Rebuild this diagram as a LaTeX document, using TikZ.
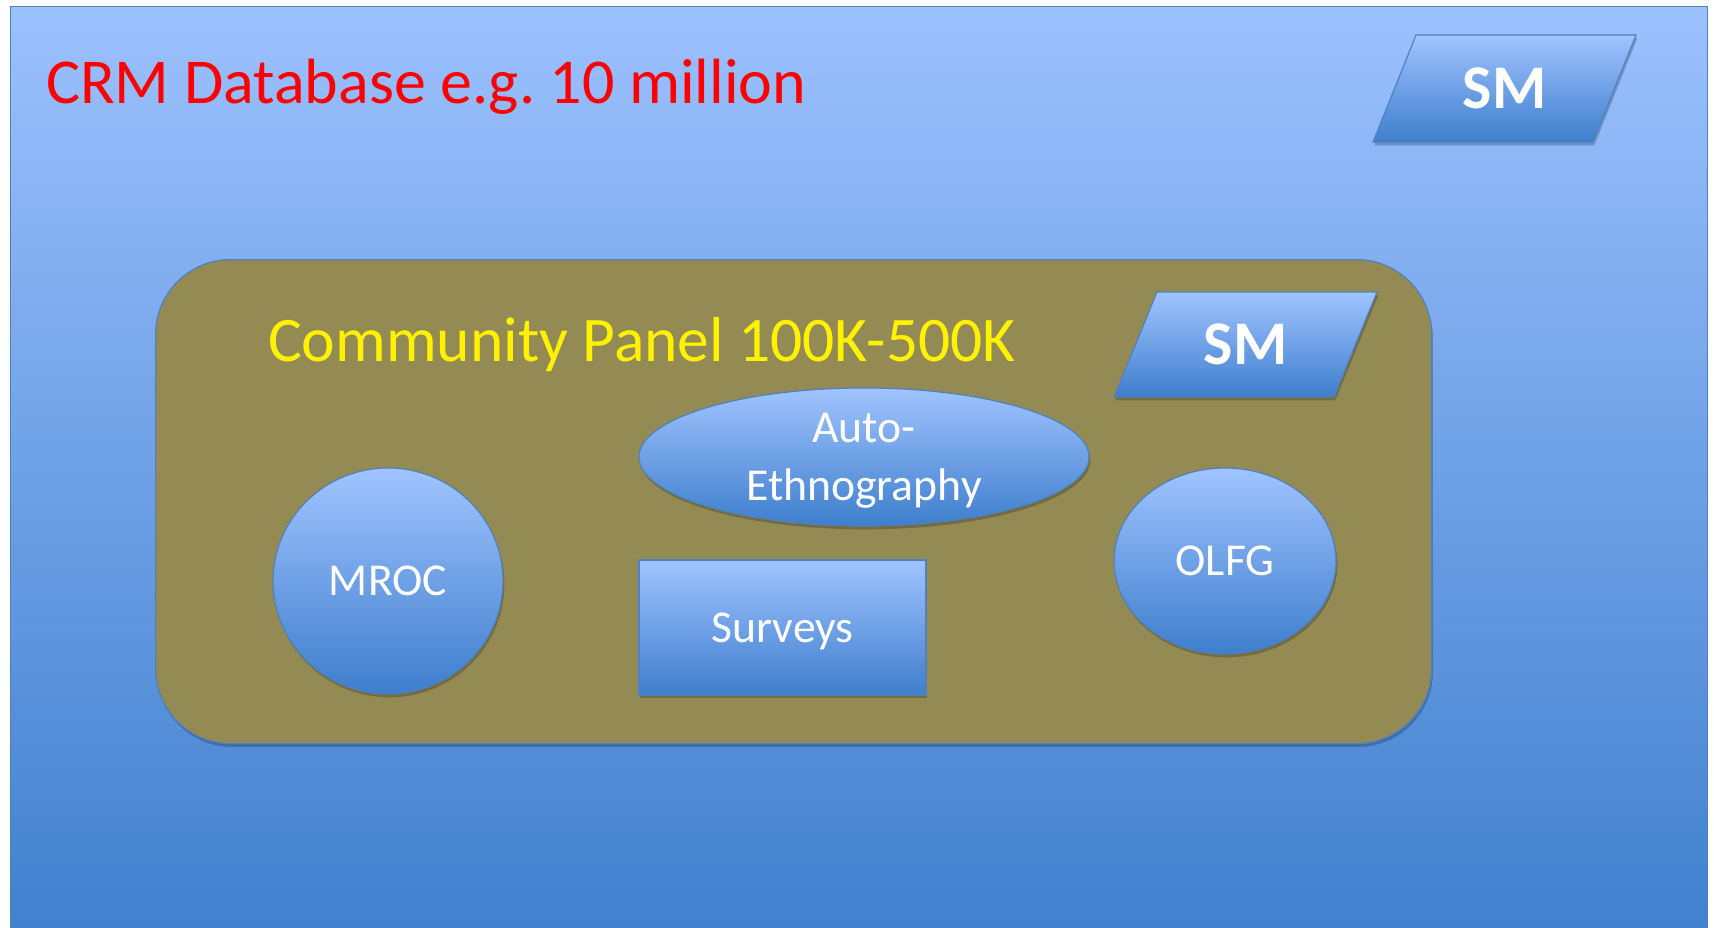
\documentclass[tikz,border=0pt]{standalone}
\usepackage{fontspec}
\setmainfont{Carlito}
\frenchspacing
\usetikzlibrary{shapes.geometric,shadows}
\definecolor{crmtop}{RGB}{156,193,254}
\definecolor{crmbot}{RGB}{64,128,206}
\definecolor{shtop}{RGB}{160,196,255}
\definecolor{shbot}{RGB}{62,126,205}
\definecolor{edgeblue}{RGB}{79,129,189}
\definecolor{panelolive}{RGB}{148,138,84}
\def\px{0.03cm}
\begin{document}
\begin{tikzpicture}[x=0.03cm,y=-0.03cm,
  softshadow/.style={drop shadow={shadow xshift=0.04cm,shadow yshift=-0.1cm,opacity=0.22,fill=black}},
  blueshape/.style={draw=edgeblue,line width=1pt,top color=shtop,bottom color=shbot,
    text=white,inner sep=0pt,text depth=0pt,softshadow,font=\fontsize{39}{49.5}\selectfont},
  smbox/.style={blueshape,trapezium,trapezium stretches=true,
    trapezium left angle=63.5,trapezium right angle=116.5,
    minimum width=263*\px,font=\fontsize{53}{60}\selectfont\bfseries}]
\useasboundingbox[fill=white] (0,0) rectangle (1714,927);
%%% outer box: the whole CRM database
\node[draw=edgeblue,line width=1pt,top color=crmtop,bottom color=crmbot,
  minimum width=1697*\px,minimum height=932*\px,inner sep=0pt,anchor=north west] (crm) at (10,6) {};
\node[anchor=base west,text=red,font=\fontsize{54.6}{60}\selectfont] (crmtitle) at (42,104)
  {CRM Database e.g. 10 million};
\node[smbox,minimum height=107*\px] (smtop) at (1504.5,88.5) {SM};
%%% the community panel inside it
\node[draw=edgeblue,line width=1pt,fill=panelolive,rounded corners=2.25cm,softshadow,
  minimum width=1276*\px,minimum height=484*\px,inner sep=0pt,anchor=north west] (panel) at (155,259) {};
\node[anchor=base west,text=yellow,font=\fontsize{54.2}{60}\selectfont] (paneltitle) at (264,361)
  {Community Panel 100K-500K};
\node[smbox,minimum height=105*\px] (smpanel) at (1245.5,344.5) {SM};
%%% research methods
\node[blueshape,ellipse,minimum width=230*\px,minimum height=226*\px] (mroc) at (388,581) {MROC};
\node[blueshape,ellipse,minimum width=450*\px,minimum height=138*\px,align=center] (autoeth) at (864,457)
  {Auto-\\Ethnography};
\node[blueshape,rectangle,minimum width=287*\px,minimum height=135*\px] (surveys) at (782.5,627.5) {Surveys};
\node[blueshape,ellipse,minimum width=222*\px,minimum height=186*\px] (olfg) at (1225,561) {OLFG};
\end{tikzpicture}
\end{document}
